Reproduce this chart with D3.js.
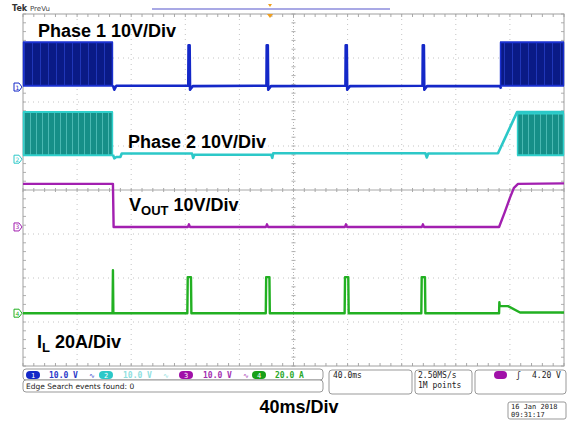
<!DOCTYPE html>
<html><head><meta charset="utf-8">
<script src="https://cdn.jsdelivr.net/npm/d3@7"></script>
<style>
html,body{margin:0;padding:0;background:#fff;}
svg{display:block;}
</style></head>
<body>
<div id="chart"></div>
<script>
// ---------------- DATA ----------------
// time axis: 10 divisions x 40 ms
const timeTicks = [0,40,80,120,160,200,240,280,320,360,400];
const divTicks = [-4,-3,-2,-1,0,1,2,3,4];
// channel settings: offset (divisions from centre), units per division
const channelNames = ["Phase 1 10V/Div","Phase 2 10V/Div","VOUT 10V/Div","IL 20A/Div"];
const channelOffsets = [2.34, 0.70, -0.84, -2.80];
const channelScales = [10, 10, 10, 20];
const channelColors = ["#1428c8", "#2cc8c8", "#a21fb0", "#22b022"];

// Phase 1 (V): switching bursts [tStart, tEnd, vLow, vHigh]
const ch1Bursts = [[0, 66.5, 0.3, 10.2], [352.7, 400, 0.3, 10.2]];
// Phase 1 (V): trace between bursts [t, v]
const ch1Trace = [[66.5,0.4],[67.5,-0.6],[69,0.3],[122.2,0.3],[122.4,9.5],[123.2,9.5],[123.5,-0.6],[125.5,0.2],
  [180.0,0.3],[180.2,9.5],[181.0,9.5],[181.3,-0.6],[183.3,0.2],[238.4,0.3],[238.6,9.5],[239.4,9.5],[239.7,-0.6],[241.7,0.2],
  [295.4,0.3],[295.6,9.5],[296.4,9.5],[296.7,-0.6],[298.7,0.2],[352.7,0.2],[353.5,-0.4]];

// Phase 2 (V)
const ch2Bursts = [[0, 66.5, 0.9, 10.7], [365.3, 400, 0.9, 10.4]];
const ch2Trace = [[66.5,1.0],[67.5,0.2],[69,0.5],[72,0.5],[73,1.3],[125,1.3],[125.8,0.3],[126.8,1.0],[183.5,1.0],[184.3,0.3],[185,1.35],
  [297.5,1.35],[298.6,0.4],[299.6,1.3],[351.2,1.35],[365.3,10.7],[400,10.7]];

// VOUT (V)
const ch3Trace = [[0,9.8],[66.5,9.8],[67,0],[122,0],[122.7,0.6],[123.4,0],[179.7,0],[180.4,0.6],[181.1,0],[238.1,0],[238.8,0.6],[239.5,0],
  [295,0],[295.7,0.6],[296.4,0],[352,0],[356,3.2],[360,6.6],[363,8.9],[366,9.8],[400,9.9]];

// IL (A)
const ch4Trace = [[0,0],[66.2,0],[66.5,19.5],[66.8,0],[121.5,0],[121.8,16.4],[124.2,16.4],[124.5,0],[179.5,0],[179.8,16.4],[182.2,16.4],[182.5,0],
  [237.8,0],[238.1,16.4],[240.5,16.4],[240.8,0],[294.5,0],[294.8,16.4],[297.2,16.4],[297.5,0],[352,0],[352.2,5.0],[352.5,3.2],[358.6,3.2],[367.5,0.3],[400,0.3]];

// info bar texts
const chanReadouts = ["10.0 V","10.0 V","10.0 V","20.0 A"];
const timebaseText = "40.0ms";
const sampleText = ["2.50MS/s","1M points"];
const triggerText = "4.20 V";
const searchText = "Edge Search events found: 0";
const dateText = ["16 Jan 2018","09:31:17"];
const bottomLabel = "40ms/Div";

// ---------------- DRAW ----------------
const W = 569, H = 421;
const svg = d3.select("#chart").append("svg").attr("width", W).attr("height", H);

const x = d3.scaleLinear().domain([0,400]).range([23,564]);
const yDiv = d3.scaleLinear().domain([-4,4]).range([366,14]);
const yCh = i => v => yDiv(channelOffsets[i] + v/channelScales[i]);

// patterns for bursts
const defs = svg.append("defs");
const p1 = defs.append("pattern").attr("id","burst1").attr("patternUnits","userSpaceOnUse").attr("width",8).attr("height",10);
p1.append("rect").attr("width",8).attr("height",10).attr("fill","#0a1a86");
p1.append("rect").attr("x",0).attr("width",1).attr("height",10).attr("fill","#2036b8");
const p2 = defs.append("pattern").attr("id","burst2").attr("patternUnits","userSpaceOnUse").attr("width",6).attr("height",10);
p2.append("rect").attr("width",6).attr("height",10).attr("fill","#168f88");
p2.append("rect").attr("x",0).attr("width",1).attr("height",10).attr("fill","#4ab8b2");

// grid
const g = svg.append("g");
const minor = d3.range(0, 400.01, 8);
const minorV = d3.range(-4, 4.01, 0.2);
timeTicks.forEach((t,i)=>{
  if (i===0 || i===timeTicks.length-1) return;
  g.append("line").attr("x1",x(t)).attr("x2",x(t)).attr("y1",yDiv(4)).attr("y2",yDiv(-4))
   .attr("stroke", t===200 ? "#b4b4b4" : "#c4c4c4").attr("stroke-width",1)
   .attr("stroke-dasharray", t===200 ? "1,2" : "1,4");
});
divTicks.forEach((d,i)=>{
  if (i===0 || i===divTicks.length-1) return;
  g.append("line").attr("x1",x(0)).attr("x2",x(400)).attr("y1",yDiv(d)).attr("y2",yDiv(d))
   .attr("stroke", d===0 ? "#a8a8a8" : "#c4c4c4").attr("stroke-width",1)
   .attr("stroke-dasharray", d===0 ? null : "1,4");
});
// ticks on centre lines and borders
minor.forEach(t=>{
  g.append("line").attr("x1",x(t)).attr("x2",x(t)).attr("y1",yDiv(0)-2).attr("y2",yDiv(0)+2).attr("stroke","#a8a8a8");
  g.append("line").attr("x1",x(t)).attr("x2",x(t)).attr("y1",yDiv(4)).attr("y2",yDiv(4)+3).attr("stroke","#a8a8a8");
  g.append("line").attr("x1",x(t)).attr("x2",x(t)).attr("y1",yDiv(-4)).attr("y2",yDiv(-4)-3).attr("stroke","#a8a8a8");
});
minorV.forEach(d=>{
  g.append("line").attr("x1",x(200)-2).attr("x2",x(200)+2).attr("y1",yDiv(d)).attr("y2",yDiv(d)).attr("stroke","#b0b0b0");
  g.append("line").attr("x1",x(0)).attr("x2",x(0)+3).attr("y1",yDiv(d)).attr("y2",yDiv(d)).attr("stroke","#b0b0b0");
  g.append("line").attr("x1",x(400)).attr("x2",x(400)-3).attr("y1",yDiv(d)).attr("y2",yDiv(d)).attr("stroke","#b0b0b0");
});
g.append("rect").attr("x",x(0)).attr("y",yDiv(4)).attr("width",x(400)-x(0)).attr("height",yDiv(-4)-yDiv(4))
 .attr("fill","none").attr("stroke","#a0a0a0").attr("stroke-width",1);

// top header
svg.append("text").attr("x",12).attr("y",11).attr("font-family","DejaVu Sans").attr("font-size",8).attr("font-weight","bold").attr("fill","#333").text("Tek");
svg.append("text").attr("x",30).attr("y",11).attr("font-family","DejaVu Sans").attr("font-size",7).attr("fill","#444").text("PreVu");
svg.append("line").attr("x1",152).attr("x2",390).attr("y1",9).attr("y2",9).attr("stroke","#8c8cdc").attr("stroke-width",1.4);
svg.append("path").attr("d","M268,4 L272,4 L270,7 Z").attr("fill","#f0a020");
svg.append("path").attr("d","M267,14 L273,14 L270,18 Z").attr("fill","#f0a020");

// traces
const tr = svg.append("g");
function drawBursts(bursts, i, fillId, edgeColor){
  const y = yCh(i);
  bursts.forEach(b=>{
    tr.append("rect").attr("x",x(b[0])).attr("width",x(b[1])-x(b[0]))
      .attr("y",y(b[3])).attr("height",y(b[2])-y(b[3])).attr("fill",`url(#${fillId})`);
    tr.append("line").attr("x1",x(b[0])).attr("x2",x(b[1])).attr("y1",y(b[3])).attr("y2",y(b[3]))
      .attr("stroke",edgeColor).attr("stroke-width",2);
    tr.append("line").attr("x1",x(b[0])).attr("x2",x(b[1])).attr("y1",y(b[2])).attr("y2",y(b[2]))
      .attr("stroke",edgeColor).attr("stroke-width",2);
    tr.append("line").attr("x1",x(b[0])+0.5).attr("x2",x(b[0])+0.5).attr("y1",y(b[3])).attr("y2",y(b[2]))
      .attr("stroke",edgeColor).attr("stroke-width",1.5);
    tr.append("line").attr("x1",x(b[1])-0.5).attr("x2",x(b[1])-0.5).attr("y1",y(b[3])).attr("y2",y(b[2]))
      .attr("stroke",edgeColor).attr("stroke-width",1.5);
  });
}
function drawTrace(data, i, width){
  const y = yCh(i);
  const line = d3.line().x(d=>x(d[0])).y(d=>y(d[1]));
  tr.append("path").attr("d",line(data)).attr("fill","none").attr("stroke",channelColors[i])
    .attr("stroke-width",width).attr("stroke-linejoin","round");
}
drawBursts(ch1Bursts, 0, "burst1", "#1a30d0");
drawTrace(ch1Trace, 0, 2.6);
drawBursts(ch2Bursts, 1, "burst2", "#30d0cc");
drawTrace(ch2Trace, 1, 2.6);
drawTrace(ch3Trace, 2, 2.4);
drawTrace(ch4Trace, 3, 2.4);

// channel ground markers
channelOffsets.forEach((o,i)=>{
  const yy = yDiv(o);
  const m = svg.append("g").attr("transform",`translate(14,${yy})`);
  m.append("path").attr("d","M0,-4 L5,-4 L8,0 L5,4 L0,4 Z").attr("fill","none").attr("stroke",channelColors[i]).attr("stroke-width",1);
  m.append("text").attr("x",3.5).attr("y",2.5).attr("text-anchor","middle").attr("font-family","DejaVu Sans").attr("font-size",6)
   .attr("fill",channelColors[i]).text(i+1);
});

// annotation labels
const lab = svg.append("g").attr("font-family","Liberation Sans, Arial, sans-serif").attr("font-weight","bold").attr("fill","#000");
lab.append("text").attr("x",38).attr("y",37).attr("font-size",18).text(channelNames[0]);
lab.append("text").attr("x",128).attr("y",148).attr("font-size",18).text(channelNames[1]);
const v = lab.append("text").attr("x",129).attr("y",211).attr("font-size",18);
v.append("tspan").text("V");
v.append("tspan").attr("font-size",13).attr("dy",4).text("OUT");
v.append("tspan").attr("dy",-4).text(" 10V/Div");
const il = lab.append("text").attr("x",37).attr("y",348).attr("font-size",18);
il.append("tspan").text("I");
il.append("tspan").attr("font-size",13).attr("dy",4).text("L");
il.append("tspan").attr("dy",-4).text(" 20A/Div");
lab.append("text").attr("x",299).attr("y",413).attr("font-size",18).attr("text-anchor","middle").text(bottomLabel);

// info bar
const info = svg.append("g").attr("font-family","DejaVu Sans Mono, monospace").attr("font-size",8);
info.append("rect").attr("x",23).attr("y",369).attr("width",300).attr("height",11).attr("rx",3).attr("fill","#fff").attr("stroke","#999");
info.append("rect").attr("x",23).attr("y",380).attr("width",300).attr("height",12).attr("rx",3).attr("fill","#fff").attr("stroke","#999");
const pillX = [26, 99, 179, 252];
const readX = [49, 123, 203, 275];
const readColors = ["#2838c8","#8ee0e0","#a22fb0","#2aa82a"];
const pillColors = ["#1428c8","#2cc8c8","#a010a8","#18a018"];
pillX.forEach((px,i)=>{
  info.append("rect").attr("x",px).attr("y",371).attr("width",14).attr("height",8).attr("rx",4).attr("fill",pillColors[i]);
  info.append("text").attr("x",px+7).attr("y",378).attr("text-anchor","middle").attr("font-size",7).attr("fill","#fff").text(i+1);
  info.append("text").attr("x",readX[i]).attr("y",378).attr("fill",readColors[i]).attr("font-weight","bold").text(chanReadouts[i]);
  if (i<3) info.append("text").attr("x",readX[i]+40).attr("y",378).attr("fill",readColors[i]).attr("font-size",7).text("∿");
});
info.append("text").attr("x",26).attr("y",389).attr("fill","#222").attr("font-family","DejaVu Sans").attr("font-size",7.5).text(searchText);
info.append("rect").attr("x",329).attr("y",370).attr("width",83).attr("height",24).attr("rx",3).attr("fill","#fff").attr("stroke","#999");
info.append("text").attr("x",333).attr("y",378).attr("fill","#222").text(timebaseText);
info.append("rect").attr("x",415).attr("y",370).attr("width",57).attr("height",24).attr("rx",3).attr("fill","#fff").attr("stroke","#999");
info.append("text").attr("x",418).attr("y",378).attr("fill","#222").text(sampleText[0]);
info.append("text").attr("x",418).attr("y",388).attr("fill","#222").text(sampleText[1]);
info.append("rect").attr("x",475).attr("y",370).attr("width",91).attr("height",24).attr("rx",3).attr("fill","#fff").attr("stroke","#999");
info.append("rect").attr("x",494).attr("y",371).attr("width",13).attr("height",8).attr("rx",4).attr("fill","#a010a8");
info.append("text").attr("x",516).attr("y",378).attr("fill","#222").text("ʃ");
info.append("text").attr("x",532).attr("y",378).attr("fill","#222").text(triggerText);
info.append("rect").attr("x",508).attr("y",402).attr("width",58).attr("height",17).attr("rx",2).attr("fill","#fff").attr("stroke","#999");
info.append("text").attr("x",511).attr("y",409).attr("font-size",7).attr("fill","#222").text(dateText[0]);
info.append("text").attr("x",511).attr("y",417).attr("font-size",7).attr("fill","#222").text(dateText[1]);
</script>
</body></html>
